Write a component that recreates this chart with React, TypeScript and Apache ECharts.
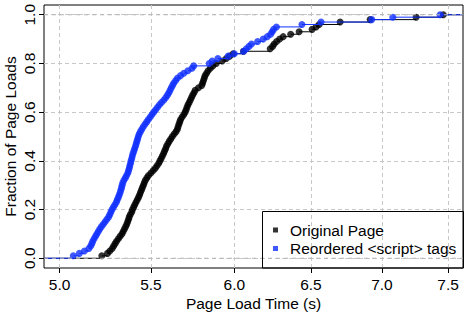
import React, { useEffect, useRef } from "react";
import * as echarts from "echarts";

// Sorted page load times (s), one sample per page load (ECDF knots)
const originalTimes = [
  5.225, 5.256, 5.269, 5.282, 5.290, 5.298, 5.306, 5.316, 5.326, 5.336,
  5.343, 5.350, 5.357, 5.363, 5.368, 5.373, 5.377, 5.383, 5.391, 5.395,
  5.402, 5.408, 5.415, 5.422, 5.429, 5.435, 5.440, 5.446, 5.451, 5.457,
  5.462, 5.468, 5.477, 5.486, 5.500, 5.513, 5.525, 5.535, 5.545, 5.552,
  5.559, 5.566, 5.573, 5.579, 5.585, 5.590, 5.598, 5.606, 5.615, 5.624,
  5.635, 5.646, 5.654, 5.658, 5.663, 5.668, 5.673, 5.682, 5.692, 5.700,
  5.706, 5.711, 5.717, 5.724, 5.731, 5.738, 5.745, 5.753, 5.760, 5.780,
  5.800, 5.805, 5.810, 5.815, 5.820, 5.829, 5.838, 5.852, 5.867, 5.888,
  5.925, 5.950, 5.971, 5.993, 6.058, 6.229, 6.245, 6.255, 6.271, 6.291,
  6.314, 6.364, 6.420, 6.508, 6.535, 6.556, 6.701, 6.914, 7.254, 7.463,
];

const reorderedTimes = [
  5.072, 5.104, 5.131, 5.155, 5.165, 5.171, 5.176, 5.183, 5.191, 5.198,
  5.206, 5.214, 5.223, 5.233, 5.243, 5.253, 5.263, 5.269, 5.275, 5.281,
  5.289, 5.297, 5.305, 5.310, 5.316, 5.321, 5.326, 5.330, 5.334, 5.337,
  5.341, 5.347, 5.355, 5.362, 5.369, 5.373, 5.377, 5.380, 5.384, 5.387,
  5.391, 5.394, 5.398, 5.403, 5.407, 5.412, 5.416, 5.420, 5.424, 5.428,
  5.433, 5.440, 5.448, 5.456, 5.466, 5.476, 5.485, 5.496, 5.506, 5.516,
  5.527, 5.538, 5.549, 5.561, 5.575, 5.586, 5.596, 5.604, 5.611, 5.618,
  5.626, 5.633, 5.644, 5.655, 5.673, 5.692, 5.716, 5.741, 5.751, 5.845,
  5.863, 5.898, 5.962, 6.000, 6.059, 6.076, 6.093, 6.109, 6.148, 6.184,
  6.210, 6.232, 6.242, 6.252, 6.270, 6.439, 6.569, 6.926, 7.080, 7.438,
];

const xTicks = [5.0, 5.5, 6.0, 6.5, 7.0, 7.5];
const yTicks = [0, 0.2, 0.4, 0.6, 0.8, 1.0];
const xRange = [4.919, 7.618];
const yRange = [-0.04, 1.04];
const seriesNames = ["Original Page", "Reordered <script> tags"];
const seriesColors = ["#000000", "#1030ff"];
const xTitle = "Page Load Time (s)";
const yTitle = "Fraction of Page Loads";

const FONT = "'Liberation Sans', Arial, sans-serif";
const FS = 15.5;
const X_MIN = Math.log(xRange[0]);
const X_MAX = Math.log(xRange[1]);

function ecdfPoints(times: number[]) {
  const n = times.length;
  return times.map((t, i) => [Math.log(t), (i + 1) / n]);
}

function ecdfSegments(times: number[]) {
  const n = times.length;
  const out: any[] = [];
  out.push([X_MIN, 0], [Math.log(times[0]), 0], [Math.log(times[0]), "-"]);
  for (let i = 0; i < n; i++) {
    const y = (i + 1) / n;
    const x0 = Math.log(times[i]);
    const x1 = i + 1 < n ? Math.log(times[i + 1]) : X_MAX;
    out.push([x0, y], [x1, y], [x1, "-"]);
  }
  return out;
}

export default function App() {
  const ref = useRef<HTMLDivElement>(null);
  useEffect(() => {
    if (!ref.current) return;
    const chart = echarts.init(ref.current, null, { renderer: "svg" });
    const samples = [originalTimes, reorderedTimes];
    const series: any[] = [];
    samples.forEach((s, k) => {
      series.push({
        name: seriesNames[k] + " steps",
        type: "line",
        data: ecdfSegments(s),
        showSymbol: false,
        silent: true,
        connectNulls: false,
        lineStyle: { color: seriesColors[k], width: 1 },
        z: 2 + k * 2,
      });
      series.push({
        name: seriesNames[k],
        type: "scatter",
        data: ecdfPoints(s),
        symbol: "circle",
        symbolSize: 7,
        itemStyle: { color: seriesColors[k] },
        z: 3 + k * 2,
      });
    });
    series.push({
      name: "01 lines",
      type: "line",
      data: [[X_MIN, 0], [X_MAX, 0], [X_MAX, "-"], [X_MIN, 1], [X_MAX, 1]],
      showSymbol: false,
      silent: true,
      lineStyle: { color: "#b3b3b3", width: 1, type: [4, 4] },
      z: 10,
    });

    chart.setOption({
      animation: false,
      backgroundColor: "#ffffff",
      textStyle: { fontFamily: FONT, color: "#000" },
      grid: {
        left: 44,
        right: 3,
        top: 5,
        bottom: 44,
        containLabel: false,
        outerBoundsMode: "none",
        show: true,
        borderColor: "#000",
        borderWidth: 1,
        backgroundColor: "transparent",
      },
      legend: {
        data: seriesNames.map((n, k) => ({ name: n, itemStyle: { color: seriesColors[k] } })),
        orient: "vertical",
        left: 273,
        top: 221,
        padding: 0,
        itemGap: 0.5,
        itemWidth: 5,
        itemHeight: 5,
        icon: "rect",
        selectedMode: false,
        textStyle: { fontSize: FS, lineHeight: 18, color: "#000", fontFamily: FONT, padding: [0, 0, 0, 7] },
      },
      graphic: [
        {
          type: "rect",
          shape: { x: 262.5, y: 211.5, width: 201, height: 56.5 },
          style: { fill: "none", stroke: "#000", lineWidth: 1 },
          z: 20,
          silent: true,
        },
      ],
      xAxis: {
        type: "value",
        min: X_MIN,
        max: X_MAX,
        axisLine: { show: false, onZero: false },
        axisTick: {
          show: true,
          customValues: xTicks.map((v) => Math.log(v)),
          length: 5,
          lineStyle: { color: "#000" },
        },
        axisLabel: {
          customValues: xTicks.map((v) => Math.log(v)),
          formatter: (v: number) => Math.exp(v).toFixed(1),
          fontSize: FS,
          color: "#000",
          margin: 8,
          fontFamily: FONT,
        },
        splitLine: { show: true, lineStyle: { color: "#c8c8c8", type: [4, 3], width: 1 } },
        name: xTitle,
        nameLocation: "middle",
        nameGap: 27,
        nameMoveOverlap: false,
        nameTextStyle: { fontSize: FS, color: "#000", fontFamily: FONT },
      },
      yAxis: {
        type: "value",
        min: yRange[0],
        max: yRange[1],
        axisLine: { show: false, onZero: false },
        axisTick: { show: true, customValues: yTicks, length: 5, lineStyle: { color: "#000" } },
        axisLabel: {
          customValues: yTicks,
          formatter: (v: number) => v.toFixed(1),
          rotate: 90,
          fontSize: FS,
          color: "#000",
          margin: 7,
          fontFamily: FONT,
        },
        splitLine: { show: true, lineStyle: { color: "#c8c8c8", type: [4, 3], width: 1 } },
        name: yTitle,
        nameLocation: "middle",
        nameGap: 26,
        nameMoveOverlap: false,
        nameTextStyle: { fontSize: FS, color: "#000", fontFamily: FONT },
      },
      series,
    });
    return () => chart.dispose();
  }, []);
  return (
    <div
      ref={ref}
      style={{ position: "fixed", left: 0, top: 0, width: 466, height: 312, background: "#fff" }}
    />
  );
}
